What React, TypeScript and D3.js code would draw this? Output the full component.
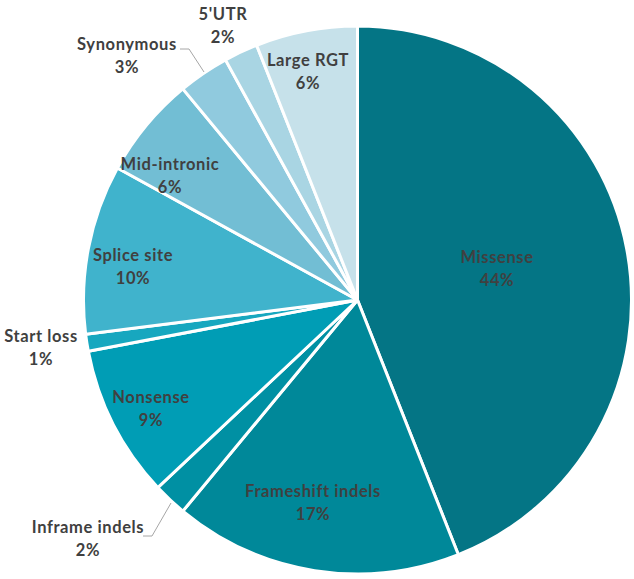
import React from "react";
import * as d3 from "d3";

const categories = [
  "Missense",
  "Frameshift indels",
  "Inframe indels",
  "Nonsense",
  "Start loss",
  "Splice site",
  "Mid-intronic",
  "Synonymous",
  "5'UTR",
  "Large RGT",
];
const values = [44, 17, 2, 9, 1, 10, 6, 3, 2, 6];
const percentLabels = ["44%", "17%", "2%", "9%", "1%", "10%", "6%", "3%", "2%", "6%"];

const colors = [
  "#047585",
  "#008899",
  "#0090a3",
  "#009db5",
  "#17a7bf",
  "#40b3cc",
  "#72bed4",
  "#90cade",
  "#a9d5e3",
  "#c6e1ea",
];

// label anchor (centre x, first-line baseline y) for each slice
const labelLayout: [number, number][] = [
  [497, 263],
  [313, 497],
  [88, 533],
  [151, 403],
  [41, 342],
  [133, 261],
  [170, 170],
  [127, 50],
  [223, 20],
  [308, 66],
];
const leaders: ([number, number][] | null)[] = [
  null,
  null,
  [[143, 536], [152, 536], [171, 503]],
  null,
  null,
  null,
  null,
  [[180, 49], [189, 49], [204, 72]],
  null,
  null,
];

const W = 634;
const H = 579;
const cx = 357.5;
const cy = 300;
const R = 274;

export default function App() {
  const pie = d3
    .pie<number>()
    .sort(null)
    .value((d) => d);
  const arcs = pie(values);
  const arcGen = d3.arc<d3.PieArcDatum<number>>().innerRadius(0).outerRadius(R);
  const line = d3.line();

  return (
    <svg
      width={W}
      height={H}
      style={{ position: "absolute", left: 0, top: 0, background: "#fff" }}
      fontFamily="Lato, 'Open Sans', sans-serif"
    >
      <g transform={`translate(${cx},${cy})`}>
        {arcs.map((a, i) => (
          <path
            key={i}
            d={arcGen(a) || ""}
            fill={colors[i]}
            stroke="#fff"
            strokeWidth={3}
            strokeLinejoin="round"
          />
        ))}
      </g>
      {leaders.map((pts, i) =>
        pts ? (
          <path key={"l" + i} d={line(pts) || ""} fill="none" stroke="#a6a6a6" strokeWidth={1} />
        ) : null
      )}
      {categories.map((c, i) => (
        <text
          key={"t" + i}
          x={labelLayout[i][0]}
          y={labelLayout[i][1]}
          textAnchor="middle"
          fontSize={16.5}
          fontWeight="bold"
          letterSpacing={0.6}
          fill="#404040"
        >
          <tspan x={labelLayout[i][0]}>{c}</tspan>
          <tspan x={labelLayout[i][0]} dy={23}>
            {percentLabels[i]}
          </tspan>
        </text>
      ))}
    </svg>
  );
}
